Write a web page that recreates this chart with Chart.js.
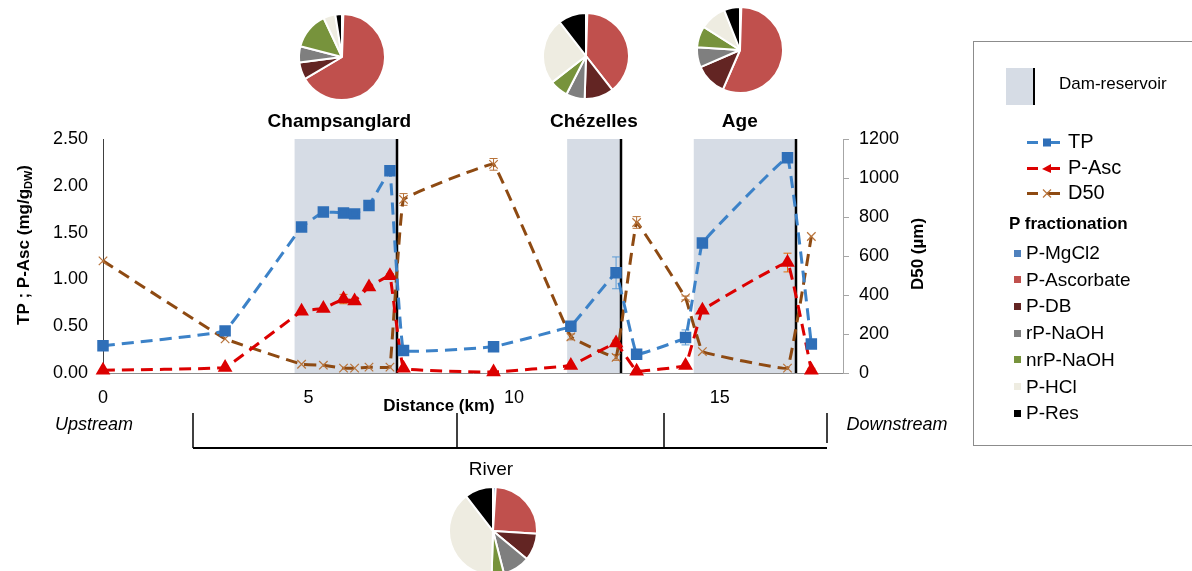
<!DOCTYPE html>
<html><head><meta charset="utf-8">
<script src="https://cdn.jsdelivr.net/npm/chart.js@4.4.1/dist/chart.umd.min.js"></script>
<style>
html,body{margin:0;padding:0;background:#fff;}
body{width:1192px;height:571px;position:relative;overflow:hidden;font-family:"Liberation Sans",Arial,sans-serif;color:#000;}
#main{position:absolute;left:0;top:0;}
.pie{position:absolute;}
#legend{position:absolute;left:973px;top:41px;width:240px;height:405px;border:1px solid #8c8c8c;box-sizing:border-box;}
#legend .t{position:absolute;white-space:nowrap;height:24px;line-height:24px;}
#river{position:absolute;left:441px;top:457px;width:100px;text-align:center;font-size:19px;line-height:24px;}
</style></head>
<body>
<canvas id="main" width="1192" height="571"></canvas>
<canvas id="pie0" class="pie" width="88" height="88"></canvas>
<canvas id="pie1" class="pie" width="88" height="88"></canvas>
<canvas id="pie2" class="pie" width="88" height="88"></canvas>
<canvas id="pie3" class="pie" width="90" height="90"></canvas>
<div id="river">River</div>
<div id="legend"></div>
<script>
// ---------- DATA ----------
const distanceKm = [0, 2.97, 4.83, 5.36, 5.85, 6.12, 6.47, 6.98, 7.31, 9.5, 11.38, 12.48, 12.98, 14.17, 14.58, 16.65, 17.23];
const tpValues   = [0.29, 0.45, 1.56, 1.72, 1.71, 1.70, 1.79, 2.16, 0.24, 0.28, 0.50, 1.07, 0.20, 0.38, 1.39, 2.30, 0.31];
const pAscValues = [0.03, 0.06, 0.66, 0.69, 0.79, 0.77, 0.92, 1.04, 0.05, 0.01, 0.08, 0.32, 0.02, 0.08, 0.67, 1.18, 0.03];
const d50Values  = [575, 175, 45, 40, 25, 25, 30, 30, 890, 1070, 185, 80, 772, 385, 110, 25, 700];
const tpError    = [0, 0.02, 0, 0.02, 0.03, 0.02, 0.04, 0.03, 0, 0.04, 0.05, 0.17, 0, 0.08, 0, 0.02, 0];
const pAscError  = [0, 0, 0, 0, 0.05, 0.02, 0, 0.02, 0, 0, 0, 0.03, 0, 0, 0.02, 0.10, 0.02];
const d50Error   = [0, 0, 0, 0, 0, 0, 0, 0, 30, 30, 15, 15, 30, 10, 0, 0, 0];

const reservoirNames   = ['Champsanglard', 'Chézelles', 'Age'];
const reservoirStartKm = [4.66, 11.29, 14.37];
const reservoirEndKm   = [7.14, 12.60, 16.86];
const reservoirLabelKm = [5.75, 11.94, 15.49];
const riverBracketKm   = [2.18, 8.62, 13.64, 17.6];

const xTickValues  = [0, 5, 10, 15];
const leftTickStep = 0.5;
const rightTickStep = 200;

const seriesNames = ['TP', 'P-Asc', 'D50'];

const fractionNames  = ['P-MgCl2', 'P-Ascorbate', 'P-DB', 'rP-NaOH', 'nrP-NaOH', 'P-HCl', 'P-Res'];
const fractionColors = ['#4F81BD', '#C0504D', '#632523', '#7F7F7F', '#77933C', '#EEECE1', '#000000'];
const pieChampsanglard = [0.5, 66, 6.5, 6, 14, 4.5, 2.5];
const pieChezelles     = [0.5, 39, 11, 7, 7, 25, 10.5];
const pieAge           = [0.5, 56, 12, 7.5, 8, 10, 6];
const pieRiver         = [1, 25, 10, 10, 4.5, 39, 10.5];

// ---------- LAYOUT / STYLE ----------
const FONT = '"Liberation Sans", Arial, sans-serif';
const AREA = {left: 103, right: 843, top: 139, bottom: 373, W: 1192, H: 571};
const pieLayout = [
  {id: 'pie0', data: pieChampsanglard, cx: 342, cy: 57},
  {id: 'pie1', data: pieChezelles, cx: 586, cy: 56},
  {id: 'pie2', data: pieAge, cx: 740, cy: 50},
  {id: 'pie3', data: pieRiver, cx: 493, cy: 531}
];
const tpColor = '#3C82C8', tpMarker = '#2F6FB8';
const ascColor = '#DC0000', ascMarker = '#DC0000';
const d50Color = '#8E4A12', d50Marker = '#B8733A';
const bandColor = '#D6DCE5';

Chart.defaults.font.family = FONT;

const pts = vals => distanceKm.map((x, i) => ({x: x, y: vals[i]}));

const decor = {
  id: 'decor',
  beforeDatasetsDraw(chart) {
    const {ctx, chartArea: a, scales} = chart;
    const x = scales.x;
    ctx.save();
    ctx.fillStyle = bandColor;
    reservoirStartKm.forEach((s, i) => {
      const x0 = x.getPixelForValue(s), x1 = x.getPixelForValue(reservoirEndKm[i]);
      ctx.fillRect(x0, a.top, x1 - x0, a.bottom - a.top);
    });
    ctx.strokeStyle = '#000'; ctx.lineWidth = 2.5;
    reservoirEndKm.forEach(e => {
      const px = Math.round(x.getPixelForValue(e));
      ctx.beginPath(); ctx.moveTo(px, a.top); ctx.lineTo(px, a.bottom); ctx.stroke();
    });
    // error bars
    const drawErr = (vals, errs, sc, col) => {
      ctx.strokeStyle = col; ctx.lineWidth = 1;
      vals.forEach((v, i) => {
        if (!errs[i]) return;
        const px = x.getPixelForValue(distanceKm[i]);
        const y0 = sc.getPixelForValue(v - errs[i]), y1 = sc.getPixelForValue(v + errs[i]);
        ctx.beginPath();
        ctx.moveTo(px, y0); ctx.lineTo(px, y1);
        ctx.moveTo(px - 4, y0); ctx.lineTo(px + 4, y0);
        ctx.moveTo(px - 4, y1); ctx.lineTo(px + 4, y1);
        ctx.stroke();
      });
    };
    drawErr(tpValues, tpError, scales.y, '#5B9BD5');
    drawErr(pAscValues, pAscError, scales.y, '#E46C0A');
    drawErr(d50Values, d50Error, scales.y1, '#B8733A');
    ctx.restore();
  },
  afterDraw(chart) {
    const {ctx, chartArea: a, scales} = chart;
    const x = scales.x;
    ctx.save();
    ctx.fillStyle = '#000';
    ctx.textAlign = 'center'; ctx.textBaseline = 'middle';
    ctx.font = 'bold 19px ' + FONT;
    reservoirNames.forEach((n, i) => ctx.fillText(n, x.getPixelForValue(reservoirLabelKm[i]), 122));
    // left title with subscript
    ctx.save();
    ctx.translate(24, 245); ctx.rotate(-Math.PI / 2);
    const p1 = 'TP ; P-Asc (mg/g', p2 = 'DW', p3 = ')';
    ctx.font = 'bold 17px ' + FONT; const w1 = ctx.measureText(p1).width, w3 = ctx.measureText(p3).width;
    ctx.font = 'bold 11px ' + FONT; const w2 = ctx.measureText(p2).width;
    let sx = -(w1 + w2 + w3) / 2;
    ctx.textAlign = 'left';
    ctx.font = 'bold 17px ' + FONT; ctx.fillText(p1, sx, 0);
    ctx.font = 'bold 11px ' + FONT; ctx.fillText(p2, sx + w1, 5);
    ctx.font = 'bold 17px ' + FONT; ctx.fillText(p3, sx + w1 + w2, 0);
    ctx.restore();
    // right title
    ctx.save();
    ctx.translate(918, 254); ctx.rotate(-Math.PI / 2);
    ctx.font = 'bold 17px ' + FONT; ctx.fillText('D50 (\u00b5m)', 0, 0);
    ctx.restore();
    // x title
    ctx.font = 'bold 17px ' + FONT;
    ctx.fillText('Distance (km)', 439, 406);
    // upstream / downstream
    ctx.font = 'italic 18px ' + FONT;
    ctx.fillText('Upstream', 94, 425);
    ctx.fillText('Downstream', 897, 425);
    // river bracket
    ctx.strokeStyle = '#000'; ctx.lineWidth = 2;
    const bx = riverBracketKm.map(k => Math.round(x.getPixelForValue(k)));
    ctx.beginPath(); ctx.moveTo(bx[0], 448); ctx.lineTo(bx[bx.length - 1], 448); ctx.stroke();
    ctx.lineWidth = 1.5;
    bx.forEach((px, i) => {
      ctx.beginPath(); ctx.moveTo(px, 413); ctx.lineTo(px, i === bx.length - 1 ? 443 : 448); ctx.stroke();
    });
    ctx.restore();
  }
};

new Chart(document.getElementById('main'), {
  type: 'line',
  data: {
    datasets: [
      {label: seriesNames[0], data: pts(tpValues), yAxisID: 'y', borderColor: tpColor, backgroundColor: tpMarker,
       pointBorderColor: tpMarker, borderWidth: 3, borderDash: [12, 7], pointStyle: 'rect', pointRadius: 6, tension: 0.05, clip: 8},
      {label: seriesNames[1], data: pts(pAscValues), yAxisID: 'y', borderColor: ascColor, backgroundColor: ascMarker,
       pointBorderColor: ascMarker, borderWidth: 3, borderDash: [12, 7], pointStyle: 'triangle', pointRadius: 5.5, tension: 0.05, clip: 8},
      {label: seriesNames[2], data: pts(d50Values), yAxisID: 'y1', borderColor: d50Color, backgroundColor: d50Marker,
       pointBorderColor: d50Marker, pointBorderWidth: 1.2, borderWidth: 3, borderDash: [12, 7], pointStyle: 'crossRot', pointRadius: 6, tension: 0.05, clip: 8}
    ]
  },
  options: {
    responsive: false, animation: false, devicePixelRatio: 1,
    layout: {padding: {top: AREA.top, left: 0, right: 0, bottom: 0}},
    plugins: {legend: {display: false}, tooltip: {enabled: false}},
    scales: {
      x: {type: 'linear', min: 0, max: 18,
          afterBuildTicks: s => { s.ticks = xTickValues.map(v => ({value: v})); },
          afterFit: s => { s.height = AREA.H - AREA.bottom; },
          grid: {display: false, drawTicks: false}, border: {color: '#8C8C8C', width: 1},
          ticks: {font: {size: 18}, color: '#000', padding: 14, maxRotation: 0, autoSkip: false}},
      y: {position: 'left', min: 0, max: 2.5,
          afterFit: s => { s.width = AREA.left; },
          grid: {display: false, drawTicks: false}, border: {color: '#404040', width: 1},
          ticks: {stepSize: leftTickStep, callback: v => Number(v).toFixed(2), font: {size: 18}, color: '#000', padding: 15}},
      y1: {position: 'right', min: 0, max: 1200,
          afterFit: s => { s.width = AREA.W - AREA.right; },
          grid: {display: true, drawOnChartArea: false, drawTicks: true, tickLength: 6, color: '#A6A6A6'},
          border: {color: '#A6A6A6', width: 1},
          ticks: {stepSize: rightTickStep, callback: v => String(v), font: {size: 18}, color: '#000', padding: 10}}
    }
  },
  plugins: [decor]
});

pieLayout.forEach(p => {
  const c = document.getElementById(p.id);
  c.style.left = (p.cx - c.width / 2) + 'px';
  c.style.top = (p.cy - c.height / 2) + 'px';
  new Chart(c, {
    type: 'pie',
    data: {labels: fractionNames, datasets: [{data: p.data, backgroundColor: fractionColors, borderColor: '#fff', borderWidth: 2, hoverOffset: 0}]},
    options: {responsive: false, animation: false, devicePixelRatio: 1, layout: {padding: 0},
              plugins: {legend: {display: false}, tooltip: {enabled: false}}}
  });
});

// ---------- LEGEND (HTML) ----------
const lg = document.getElementById('legend');
function addText(txt, left, cy, css) {
  const d = document.createElement('div');
  d.className = 't'; d.textContent = txt;
  d.style.left = left + 'px'; d.style.top = (cy - 12) + 'px';
  d.style.cssText += css || '';
  lg.appendChild(d);
}
// dam-reservoir swatch
const sw = document.createElement('div');
sw.style.cssText = 'position:absolute;left:32px;top:26px;width:27px;height:37px;background:' + bandColor + ';border-right:2.5px solid #000;';
lg.appendChild(sw);
addText('Dam-reservoir', 85, 42, 'font-size:17px;');
const serStyle = [
  {col: tpColor, mk: tpMarker, shape: 'rect'},
  {col: ascColor, mk: ascMarker, shape: 'tri'},
  {col: d50Color, mk: d50Marker, shape: 'x'}
];
const serY = [99, 125, 150];
seriesNames.forEach((n, i) => {
  const s = serStyle[i];
  let mk = '';
  if (s.shape === 'rect') mk = `<rect x="16" y="2.5" width="8" height="8" fill="${s.mk}"/>`;
  if (s.shape === 'tri') mk = `<polygon points="15,7 24,2 24,11" fill="${s.mk}"/>`;
  if (s.shape === 'x') mk = `<path d="M16,2.5 L24,10.5 M24,2.5 L16,10.5" stroke="${s.mk}" stroke-width="1.2"/>`;
  const svg = document.createElement('div');
  svg.style.cssText = `position:absolute;left:53px;top:${serY[i] - 6.5}px;width:40px;height:13px;`;
  svg.innerHTML = `<svg width="40" height="13"><line x1="0" y1="6.5" x2="11" y2="6.5" stroke="${s.col}" stroke-width="3"/>` +
    `<line x1="20" y1="6.5" x2="33" y2="6.5" stroke="${s.col}" stroke-width="3"/>${mk}</svg>`;
  lg.appendChild(svg);
  addText(n, 94, serY[i], 'font-size:20px;');
});
addText('P fractionation', 35, 182, 'font-size:17px;font-weight:bold;');
fractionNames.forEach((n, i) => {
  const cy = 211 + i * 26.7;
  const sq = document.createElement('div');
  sq.style.cssText = `position:absolute;left:40px;top:${cy - 3.5}px;width:7px;height:7px;background:${fractionColors[i]};`;
  lg.appendChild(sq);
  addText(n, 52, cy, 'font-size:19px;');
});
</script>
</body></html>
